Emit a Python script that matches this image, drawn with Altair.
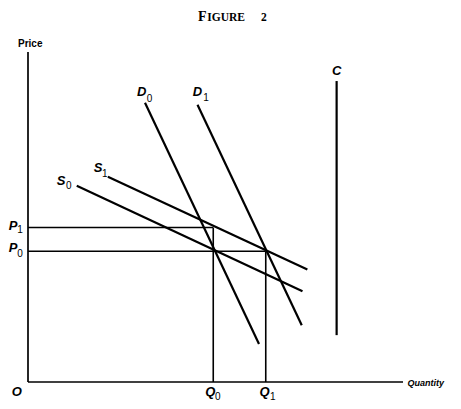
import altair as alt
import pandas as pd

# ---- values (data units: 0..100 on both axes) ----
P0 = 39.6
P1 = 46.8
Q0 = 49.4
Q1 = 63.4

curve_names = ["D0", "D1", "S0", "S1", "C"]
curve_x1 = [31.2, 45.2, 13.0, 21.3, 82.3]
curve_y1 = [84.6, 84.0, 59.5, 62.2, 91.2]
curve_x2 = [61.6, 73.0, 73.2, 74.5, 82.3]
curve_y2 = [11.5, 17.2, 27.5, 34.1, 14.2]

axis_max = 100

# main letters of the labels
label_text = ["P", "P", "Q", "Q", "D", "D", "S", "S", "C", "O"]
label_x = [-4.0, -4.0, 48.6, 63.1, 30.3, 45.2, 8.8, 18.7, 82.3, -3.0]
label_y = [47.4, 40.5, -3.0, -3.0, 87.9, 87.9, 61.0, 65.0, 94.3, -3.0]

# subscripts
sub_text = ["1", "0", "0", "1", "0", "1", "0", "1"]
sub_x = [-2.1, -2.1, 50.6, 65.3, 32.4, 47.5, 10.9, 20.5]
sub_y = [46.0, 38.9, -4.4, -4.4, 85.9, 86.2, 59.3, 62.9]

# ---- tables ----
segs = pd.DataFrame({
    "name": ["x-axis", "y-axis"] + curve_names + ["P1", "P0", "Q0", "Q1"],
    "x": [0, 0] + curve_x1 + [0, 0, Q0, Q1],
    "y": [0, 0] + curve_y1 + [P1, P0, P1, P0],
    "x2": [axis_max, 0] + curve_x2 + [Q0, Q1, Q0, Q1],
    "y2": [0, axis_max] + curve_y2 + [P1, P0, 0, 0],
})
segs["w"] = [1.7, 1.7] + [2.2] * len(curve_names) + [1.6] * 4

labels = pd.DataFrame({"t": label_text, "x": label_x, "y": label_y})
subs = pd.DataFrame({"t": sub_text, "x": sub_x, "y": sub_y})
price = pd.DataFrame({"t": ["Price"], "x": [0.6], "y": [102.4]})
qty = pd.DataFrame({"t": ["Quantity"], "x": [101.2], "y": [-0.3]})
title_big = pd.DataFrame({"t": ["F"], "x": [45.3], "y": [109.5]})
title_small = pd.DataFrame({"t": ["IGURE", "2"], "x": [47.8, 62.1], "y": [109.5, 109.5]})

xs = alt.Scale(domain=[0, axis_max], nice=False, zero=False)
ys = alt.Scale(domain=[0, axis_max], nice=False, zero=False)


def bx():
    return alt.X("x:Q", scale=xs, axis=None)


def by():
    return alt.Y("y:Q", scale=ys, axis=None)


lines = alt.Chart(segs).mark_rule(color="black", strokeCap="butt").encode(
    x=bx(), y=by(), x2="x2:Q", y2="y2:Q",
    strokeWidth=alt.StrokeWidth("w:Q", scale=None, legend=None),
)

font = "Liberation Sans"
main = alt.Chart(labels).mark_text(
    font=font, fontSize=13, fontStyle="italic", fontWeight="bold",
    align="center", baseline="middle", color="black",
).encode(x=bx(), y=by(), text="t:N")

sub = alt.Chart(subs).mark_text(
    font=font, fontSize=10, align="center", baseline="middle", color="black",
).encode(x=bx(), y=by(), text="t:N")

price_t = alt.Chart(price).mark_text(
    font=font, fontSize=10, fontWeight="bold", align="center", baseline="middle", color="black",
).encode(x=bx(), y=by(), text="t:N")

qty_t = alt.Chart(qty).mark_text(
    font=font, fontSize=9, fontWeight="bold", fontStyle="italic",
    align="left", baseline="middle", color="black",
).encode(x=bx(), y=by(), text="t:N")

tb = alt.Chart(title_big).mark_text(
    font="Liberation Serif", fontSize=14, fontWeight="bold",
    align="left", baseline="alphabetic", color="black",
).encode(x=bx(), y=by(), text="t:N")

ts = alt.Chart(title_small).mark_text(
    font="Liberation Serif", fontSize=11.5, fontWeight="bold",
    align="left", baseline="alphabetic", color="black",
).encode(x=bx(), y=by(), text="t:N")

chart = alt.layer(lines, main, sub, price_t, qty_t, tb, ts).properties(
    width=375, height=330,
    background="white",
    autosize=alt.AutoSizeParams(type="none"),
    padding={"left": 20, "top": 44, "right": 50, "bottom": 19},
).configure_view(stroke=None)

chart.save("out.html", embed_options={"renderer": "svg", "actions": False})
